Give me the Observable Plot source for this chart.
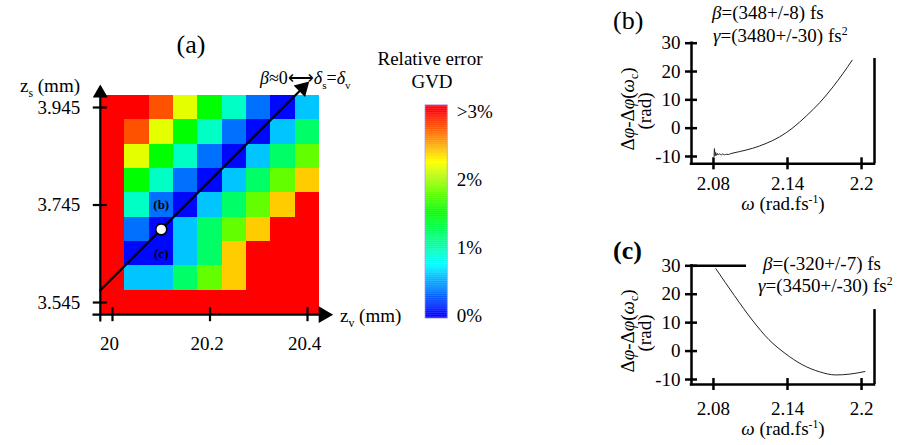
<!DOCTYPE html>
<html><head><meta charset="utf-8">
<script src="https://cdn.jsdelivr.net/npm/d3@7"></script>
<script src="https://cdn.jsdelivr.net/npm/@observablehq/plot@0.6"></script>
<style>
html,body{margin:0;padding:0;background:#fff;}
#fig{position:relative;width:916px;height:445px;overflow:hidden;font-family:"Liberation Serif","Times New Roman",serif;color:#000;background:#fff;}
#fig svg{position:absolute;left:0;top:0;}
.lbl{position:absolute;white-space:nowrap;line-height:1;}
.lbl sub,.lbl sup{line-height:0;font-size:0.62em;}
</style></head><body><div id="fig"></div>
<script>
// ---------- DATA ----------
// Panel (a): relative GVD error (%) on the (z_v, z_s) grid; values > 3 shown as ">3%"
const zvValues = [20.00, 20.05, 20.10, 20.15, 20.20, 20.25, 20.30, 20.35, 20.40];
const zsValues = [3.945, 3.895, 3.845, 3.795, 3.745, 3.695, 3.645, 3.595, 3.545]; // top -> bottom
const gvdError = [
  [3.5, 3.5, 2.76, 2.17, 1.5, 0.92, 0.33, 0.02, 0.58],
  [3.5, 2.76, 2.17, 1.5, 0.92, 0.33, 0.02, 0.58, 1.2],
  [3.5, 2.17, 1.5, 0.92, 0.33, 0.02, 0.58, 1.2, 1.79],
  [3.5, 1.5, 0.92, 0.33, 0.02, 0.58, 1.2, 1.79, 2.4],
  [3.5, 0.92, 0.33, 0.02, 0.58, 1.2, 1.79, 2.4, 3.5],
  [3.5, 0.33, 0.02, 0.58, 1.2, 1.79, 2.4, 3.5, 3.5],
  [3.5, 0.02, 0.02, 0.58, 1.2, 2.4, 3.5, 3.5, 3.5],
  [3.5, 0.58, 0.58, 1.2, 1.79, 2.4, 3.5, 3.5, 3.5],
  [3.5, 3.5, 3.5, 3.5, 3.5, 3.5, 3.5, 3.5, 3.5]
];
const zvTicks = [20, 20.2, 20.4];
const zvTickLabels = ["20", "20.2", "20.4"];
const zsTicks = [3.545, 3.745, 3.945];
const zsTickLabels = ["3.545", "3.745", "3.945"];
const diagonal = [{zv: 19.975, zs: 3.57}, {zv: 20.39, zs: 3.985}];   // beta ~ 0 line
const markedPoint = [{zv: 20.1, zs: 3.695}];
const pointLabels = [{zv: 20.1, zs: 3.745, label: "(b)"}, {zv: 20.1, zs: 3.645, label: "(c)"}];
const cbTicks = [0, 1, 2, 3];
const cbTickLabels = ["0%", "1%", "2%", ">3%"];

// Panels (b), (c): spectral phase
const omegaB = [2.0805, 2.0808, 2.0813, 2.0818, 2.0824, 2.0832, 2.0840, 2.0850, 2.0862, 2.0875, 2.0890, 2.0905, 2.0920, 2.0940, 2.1009, 2.1118, 2.1226, 2.1335, 2.1444, 2.1552, 2.1661, 2.1769, 2.1851, 2.1924];
const phaseB = [-10.0, -7.2, -9.8, -8.6, -9.6, -8.9, -9.5, -9.0, -9.5, -9.1, -9.4, -9.2, -9.3, -9.0, -8.3, -7.1, -5.4, -3.1, 0.15, 4.3, 9.0, 14.6, 19.4, 24.0];
const omegaC = [2.0819, 2.0970, 2.1120, 2.1250, 2.1380, 2.1520, 2.1660, 2.1790, 2.1905, 2.2027];
const phaseC = [29.0, 19.5, 10.6, 4.0, -0.8, -4.8, -7.3, -8.4, -8.1, -7.2];
const omegaTicks = [2.08, 2.14, 2.2];
const omegaTickLabels = ["2.08", "2.14", "2.2"];
const phaseTicks = [-10, 0, 10, 20, 30];
const phaseTickLabels = ["-10", "0", "10", "20", "30"];

// ---------- DRAWING ----------
const fig = document.getElementById("fig");
const serif = '"Liberation Serif", "Times New Roman", serif';
const baseStyle = {background: "transparent", fontFamily: serif, fontSize: "19px", color: "black", overflow: "visible"};
const gvdColor = {type: "linear", domain: [0, 3], range: ["hsl(240,100%,50%)", "hsl(0,100%,50%)"], interpolate: d3.interpolateHslLong, clamp: true};

// Panel (a)
const half = 0.025;
const cells = zsValues.flatMap((zs, i) => zvValues.map((zv, j) => ({zv, zs, err: gvdError[i][j]})));
const xA0 = 19.975, yA0 = 3.52;
const tip = diagonal[diagonal.length - 1];
const plotA = Plot.plot({
  width: 916, height: 445,
  x: {domain: [19.975, 20.45], range: [99.8, 331.4], axis: null},
  y: {domain: [3.52, 4.0], range: [314.2, 80.2], axis: null},
  color: gvdColor,
  style: baseStyle,
  marks: [
    Plot.rect(cells, {x1: d => d.zv - half, x2: d => d.zv + half, y1: d => d.zs - half, y2: d => d.zs + half, fill: "err", shapeRendering: "crispEdges"}),
    Plot.ruleX([xA0], {y1: 3.505, y2: 3.975, stroke: "black", strokeWidth: 2.2}),
    Plot.ruleY([yA0], {x1: 19.96, x2: 20.425, stroke: "black", strokeWidth: 2.2}),
    Plot.dot([[xA0, 3.9744]], {symbol: "triangle", r: 5.6, fill: "black", stroke: "none"}),
    Plot.dot([[20.4328, yA0]], {symbol: "triangle", r: 6.2, rotate: 90, fill: "black", stroke: "none"}),
    Plot.ruleY(zsTicks, {y: d => d, x1: xA0, x2: xA0, insetLeft: -7, insetRight: -7, stroke: "black", strokeWidth: 2.2}),
    Plot.ruleX(zvTicks, {x: d => d, y1: yA0, y2: yA0, insetTop: -7, insetBottom: -7, stroke: "black", strokeWidth: 2.2}),
    Plot.text(zvTicks, {x: d => d, y: yA0, text: (d, i) => zvTickLabels[i], dy: 29, dx: -3, fill: "black"}),
    Plot.text(zsTicks, {x: xA0, y: d => d, text: (d, i) => zsTickLabels[i], dx: -20, textAnchor: "end", fill: "black"}),
    Plot.line(diagonal, {x: "zv", y: "zs", stroke: "black", strokeWidth: 2.2}),
    Plot.dot([tip], {x: "zv", y: "zs", symbol: "triangle", r: 6, rotate: 45, fill: "black", stroke: "none"}),
    Plot.dot(markedPoint, {x: "zv", y: "zs", r: 5.5, fill: "white", stroke: "black", strokeWidth: 1.6}),
    Plot.text(pointLabels, {x: "zv", y: "zs", text: "label", fontWeight: "bold", fontSize: 13, fill: "black"})
  ]
});
fig.appendChild(plotA);

// Colour bar
const rampStep = 0.01;
const ramp = d3.range(-0.045, 3.09, rampStep);
const plotCB = Plot.plot({
  width: 916, height: 445,
  x: {domain: [0, 1], range: [425, 447.3], axis: null},
  y: {domain: [0, 3], range: [315, 111], axis: null},
  color: gvdColor,
  style: baseStyle,
  marks: [
    Plot.rect(ramp, {x1: 0, x2: 1, y1: d => d, y2: d => Math.min(d + rampStep * 1.4, 3.09), fill: d => d}),
    Plot.rect([0], {x1: 0, x2: 1, y1: -0.045, y2: 3.09, fill: "none", stroke: "#a898f0", strokeWidth: 1, strokeOpacity: 0.7}),
    Plot.text(cbTicks, {x: 1, y: d => d, dx: 9, text: (d, i) => cbTickLabels[i], textAnchor: "start", fill: "black"})
  ]
});
fig.appendChild(plotCB);

// Phase panels
function phasePanel(omega, phase, {yDomain, yRange, rightTop, topLineEnd, labelDy}) {
  const x0 = 2.0622, x1 = 2.2105, y0 = yDomain[0];
  const data = omega.map((o, i) => ({omega: o, phase: phase[i]}));
  const marks = [
    Plot.ruleX([x0], {y1: y0, y2: 30, stroke: "black", strokeWidth: 2.5, strokeLinecap: "square"}),
    Plot.ruleY([y0], {x1: x0, x2: x1, stroke: "black", strokeWidth: 2.5, strokeLinecap: "square"}),
    Plot.ruleX([x1], {y1: y0, y2: rightTop, stroke: "black", strokeWidth: 2.5}),
    Plot.ruleY(phaseTicks, {y: d => d, x1: x0, x2: x0, insetLeft: -6, insetRight: -6, stroke: "black", strokeWidth: 2.5}),
    Plot.ruleX(omegaTicks, {x: d => d, y1: y0, y2: y0, insetTop: -6, insetBottom: -6, stroke: "black", strokeWidth: 2.5}),
    Plot.text(phaseTicks, {x: x0, y: d => d, text: (d, i) => phaseTickLabels[i], dx: -11, textAnchor: "end", fill: "black"}),
    Plot.text(omegaTicks, {x: d => d, y: y0, text: (d, i) => omegaTickLabels[i], dy: labelDy, fill: "black"}),
    Plot.line(data, {x: "omega", y: "phase", stroke: "#222", strokeWidth: 1, curve: "monotone-x"})
  ];
  if (topLineEnd) marks.push(Plot.ruleY([30], {x1: x0, x2: topLineEnd, stroke: "black", strokeWidth: 2.5}));
  return Plot.plot({
    width: 916, height: 445,
    x: {domain: [x0, x1], range: [691, 874], axis: null},
    y: {domain: yDomain, range: yRange, axis: null},
    style: baseStyle,
    marks
  });
}
fig.appendChild(phasePanel(omegaB, phaseB, {yDomain: [-12.58, 30], yRange: [163.3, 42.7], rightTop: 24.6, topLineEnd: null, labelDy: 20}));
fig.appendChild(phasePanel(omegaC, phaseC, {yDomain: [-11.76, 30], yRange: [384, 265.3], rightTop: 14.6, topLineEnd: 2.1068, labelDy: 24}));

// ---------- TEXT ----------
function label(html, x, y, {size = 19, anchor = "start", weight = "normal", rotate = false} = {}) {
  const d = document.createElement("div");
  d.className = "lbl";
  d.innerHTML = html;
  d.style.fontSize = size + "px";
  d.style.fontWeight = weight;
  if (!rotate) {
    d.style.left = x + "px";
    d.style.top = (y - 0.8375 * size) + "px";
    if (anchor === "middle") d.style.transform = "translateX(-50%)";
    if (anchor === "end") d.style.transform = "translateX(-100%)";
  } else {
    d.style.left = (x - 0.3375 * size) + "px";
    d.style.top = y + "px";
    d.style.transform = "translate(-50%,-50%) rotate(-90deg)";
  }
  fig.appendChild(d);
}
// panel (a)
label("(a)", 191, 54, {size: 26, anchor: "middle"});
label("z<sub>s</sub> (mm)", 20, 92);
label("z<sub>v</sub> (mm)", 340, 322);
label("<i>β</i>≈0⟷<i>δ</i><sub>s</sub>=<i>δ</i><sub>v</sub>", 260, 84, {size: 18});
label("Relative error", 430, 65, {anchor: "middle"});
label("GVD", 432, 88, {anchor: "middle"});
// panel (b)
label("(b)", 613, 29.5, {size: 26});
label("<i>β</i>=(348+/-8) fs", 712, 18.5);
label("<i>γ</i>=(3480+/-30) fs<sup>2</sup>", 713, 42);
label("Δ<i>φ</i>-Δ<i>φ</i>(<i>ω</i><sub>c</sub>)", 633.5, 109, {rotate: true});
label("(rad)", 650.5, 111, {rotate: true});
label("<i>ω</i> (rad.fs<sup>-1</sup>)", 783, 210, {anchor: "middle"});
// panel (c)
label("(c)", 613, 260, {size: 26, weight: "bold"});
label("<i>β</i>=(-320+/-7) fs", 763, 269.5);
label("<i>γ</i>=(3450+/-30) fs<sup>2</sup>", 758, 292);
label("Δ<i>φ</i>-Δ<i>φ</i>(<i>ω</i><sub>c</sub>)", 633.5, 331, {rotate: true});
label("(rad)", 650.5, 333, {rotate: true});
label("<i>ω</i> (rad.fs<sup>-1</sup>)", 783, 435, {anchor: "middle"});
</script></body></html>
